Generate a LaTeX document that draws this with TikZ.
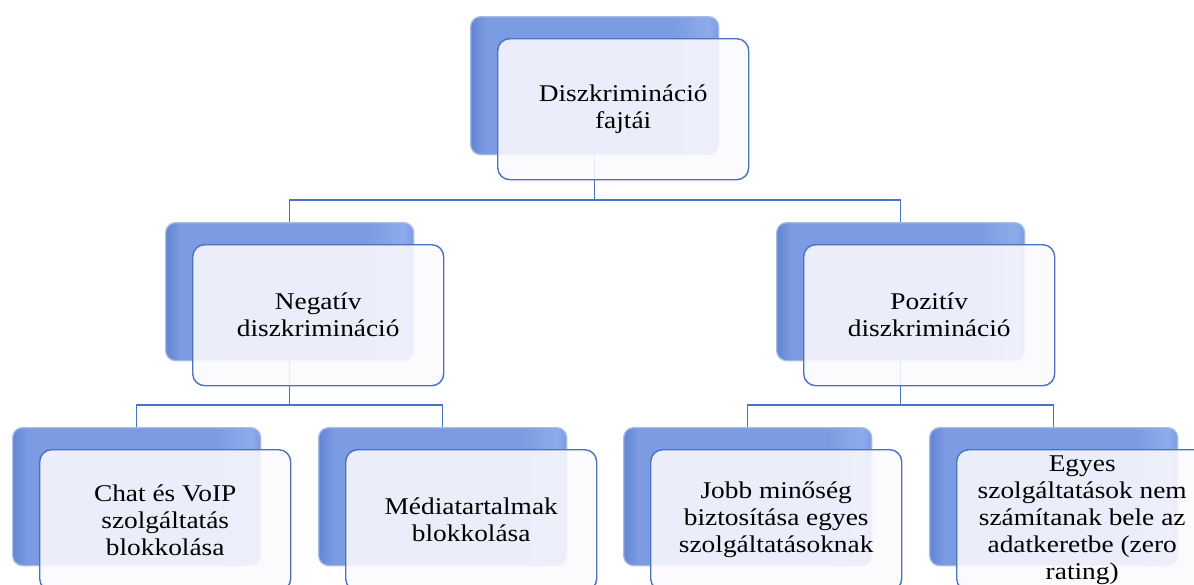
\documentclass[tikz,border=0pt]{standalone}
\usepackage{fontspec}
\setmainfont[FakeStretch=1.14]{Liberation Serif}
\definecolor{connline}{HTML}{4A72C4}
\definecolor{backdark}{HTML}{6384D2}
\definecolor{backmid}{HTML}{7B9CE2}
\definecolor{backlight}{HTML}{8CACEC}
\definecolor{backedge}{HTML}{A9BAE0}
\definecolor{frontline}{HTML}{4B71BF}
\definecolor{frontfill}{HTML}{FBFAFE}
% bevelled blue fill: darker rim on the left, lighter towards the right
\pgfdeclarehorizontalshading{bevelblue}{100bp}{%
  color(0bp)=(backdark); color(25bp)=(backdark); color(28bp)=(backmid);
  color(66bp)=(backmid); color(73bp)=(backlight); color(75bp)=(backmid);
  color(100bp)=(backmid)}
\pgfdeclarelayer{background}
\pgfsetlayers{background,main}
\begin{document}
\begin{tikzpicture}[x=1pt,y=-1pt,
  backbox/.style={rectangle, rounded corners=10pt, minimum width=248pt,
    minimum height=138pt, anchor=north west, inner sep=0pt,
    shading=bevelblue, draw=backedge, line width=1.3pt},
  frontbox/.style={rectangle, rounded corners=12pt, minimum width=251pt,
    minimum height=141pt, anchor=north west, inner sep=2pt,
    draw=frontline, line width=1.4pt, fill=frontfill, fill opacity=0.88,
    text opacity=1, align=center, font=\fontsize{24}{27}\selectfont},
  conn/.style={draw=connline, line width=1.5pt}]
\clip (0,0) rectangle (1194,584);

% level 0
\node[backbox] (b0) at (470,16) {};
\node[frontbox] (f0) at (497,38) {Diszkrimináció\\fajtái};

% level 1
\node[backbox] (bn) at (165,222) {};
\node[frontbox] (fn) at (192,244) {Negatív\\diszkrimináció};
\node[backbox] (bp) at (776,222) {};
\node[frontbox] (fp) at (803,244) {Pozitív\\diszkrimináció};

% level 2
\node[backbox] (b1) at (12,427) {};
\node[frontbox] (f1) at (39,449) {Chat és VoIP\\szolgáltatás\\blokkolása};
\node[backbox] (b2) at (318,427) {};
\node[frontbox] (f2) at (345,449) {Médiatartalmak\\blokkolása};
\node[backbox] (b3) at (623,427) {};
\node[frontbox] (f3) at (650,449) {Jobb minőség\\biztosítása egyes\\szolgáltatásoknak};
\node[backbox] (b4) at (929,427) {};
\node[frontbox] (f4) at (956,449) {Egyes\\szolgáltatások nem\\számítanak bele az\\adatkeretbe (zero\\rating)};

% bus heights
\coordinate (busA) at (0,200);
\coordinate (busB) at (0,405);

\begin{pgfonlayer}{background}
  \draw[conn] (b0.south) -- (b0.south |- busA) -| (bn.north);
  \draw[conn] (b0.south |- busA) -| (bp.north);
  \draw[conn] (bn.south) -- (bn.south |- busB) -| (b1.north);
  \draw[conn] (bn.south |- busB) -| (b2.north);
  \draw[conn] (bp.south) -- (bp.south |- busB) -| (b3.north);
  \draw[conn] (bp.south |- busB) -| (b4.north);
\end{pgfonlayer}
\end{tikzpicture}
\end{document}
